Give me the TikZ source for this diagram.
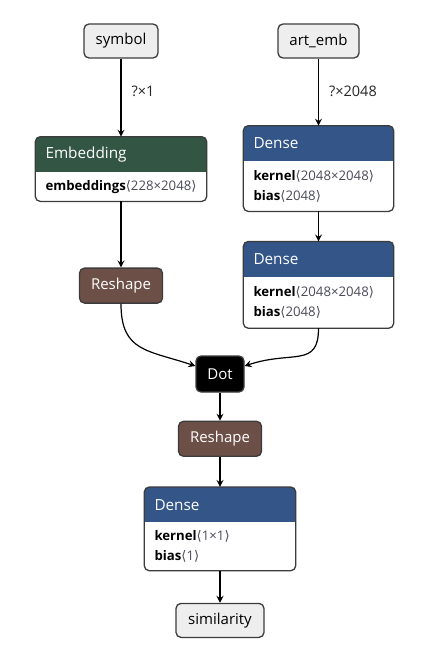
\documentclass[tikz,border=0pt]{standalone}
\usepackage{fontspec}
\setmainfont{Open Sans}
\newfontfamily\symfont{DejaVu Sans}
\usetikzlibrary{arrows.meta,positioning,backgrounds}
\definecolor{layerblue}{HTML}{335588}
\definecolor{transgreen}{HTML}{335544}
\definecolor{shapebrown}{HTML}{6C4F47}
\definecolor{frameline}{HTML}{3C3C3C}
\definecolor{iofill}{HTML}{EEEEEE}
\definecolor{dimtext}{HTML}{4A4A5A}
\tikzset{
  iobox/.style={draw=frameline, fill=iofill, rounded corners=5pt, line width=1.3pt, minimum height=34pt, inner sep=0pt, font=\fontsize{15}{18}\selectfont},
  opbox/.style={draw=frameline, rounded corners=5pt, line width=1.3pt, minimum height=35pt, inner sep=0pt, text=white, font=\fontsize{15}{18}\selectfont},
  headbox/.style={text=white, minimum height=35pt, inner xsep=10pt, inner ysep=0pt, align=left, text width=#1, font=\fontsize{15.3}{18}\selectfont},
  bodybox/.style={inner xsep=10pt, inner ysep=0pt, align=left, text width=#1, font=\fontsize{13.2}{20}\selectfont},
  edge/.style={-{Stealth[length=7pt, width=7pt, inset=2.5pt]}, line width=1.2pt, draw=black},
  dimlabel/.style={inner sep=0pt, text=black!85, font=\fontsize{14.5}{16}\selectfont},
}
% value in angle brackets
\newcommand{\dims}[1]{{\color{dimtext}{\symfont ⟨}#1{\symfont ⟩}}}
% white box with coloured title band
\newcommand{\layerframe}[3]{%
  \begin{scope}[on background layer]
    \fill[white, rounded corners=5pt] (#1.north west) rectangle (#2.south east);
    \begin{scope}
      \clip[rounded corners=5pt] (#1.north west) rectangle (#2.south east);
      \fill[#3] (#1.north west) rectangle (#1.south east);
    \end{scope}
    \draw[frameline, line width=1.3pt, rounded corners=5pt] (#1.north west) rectangle (#2.south east);
  \end{scope}}

\begin{document}
\begin{tikzpicture}[x=1pt, y=-1pt]
    \useasboundingbox (0,0) rectangle (435,669);
    % inputs
    \node[iobox, minimum width=74pt] (symbol) at (121,41) {symbol};
    \node[iobox, minimum width=81pt] (artemb) at (318.5,41) {art\_emb};
    % left branch
    \node[headbox=151pt, below=78pt of symbol] (embH) {Embedding};
    \node[bodybox=151pt, below=0pt of embH, minimum height=29pt] (embB) {\textbf{embeddings}\dims{228×2048}};
    \node[opbox, fill=shapebrown, minimum width=83pt, below=66pt of embB] (reshapeA) {Reshape};
    % right branch
    \node[headbox=130pt, below=67pt of artemb] (denseAH) {Dense};
    \node[bodybox=130pt, below=0pt of denseAH, minimum height=50pt] (denseAB) {\textbf{kernel}\dims{2048×2048}\\\textbf{bias}\dims{2048}};
    \node[headbox=130pt, below=30pt of denseAB] (denseBH) {Dense};
    \node[bodybox=130pt, below=0pt of denseBH, minimum height=51pt] (denseBB) {\textbf{kernel}\dims{2048×2048}\\\textbf{bias}\dims{2048}};
    % merge
    \node[opbox, fill=black, minimum width=48pt, minimum height=36pt] (dot) at (220,374) {Dot};
    \node[opbox, fill=shapebrown, minimum width=83pt, below=28pt of dot] (reshapeB) {Reshape};
    \node[headbox=131pt, below=30pt of reshapeB] (denseCH) {Dense};
    \node[bodybox=131pt, below=0pt of denseCH, minimum height=48pt] (denseCB) {\textbf{kernel}\dims{1×1}\\\textbf{bias}\dims{1}};
    \node[iobox, minimum width=88pt, below=32pt of denseCB] (similarity) {similarity};

    \layerframe{embH}{embB}{transgreen}
    \layerframe{denseAH}{denseAB}{layerblue}
    \layerframe{denseBH}{denseBB}{layerblue}
    \layerframe{denseCH}{denseCB}{layerblue}

    \draw[edge] (symbol) -- node[dimlabel, pos=0.42, right=10pt] {?×1} (embH);
    \draw[edge] (artemb) -- node[dimlabel, pos=0.49, right=10pt] {?×2048} (denseAH);
    \draw[edge] (embB) -- (reshapeA);
    \draw[edge] (denseAB) -- (denseBH);
    \draw[edge] (reshapeA.south) .. controls +(0,48) and +(-48,-16) .. (dot.162);
    \draw[edge] (denseBB.south) .. controls +(0,40) and +(48,-16) .. (dot.18);
    \draw[edge] (dot) -- (reshapeB);
    \draw[edge] (reshapeB) -- (denseCH);
    \draw[edge] (denseCB) -- (similarity);
\end{tikzpicture}
\end{document}
